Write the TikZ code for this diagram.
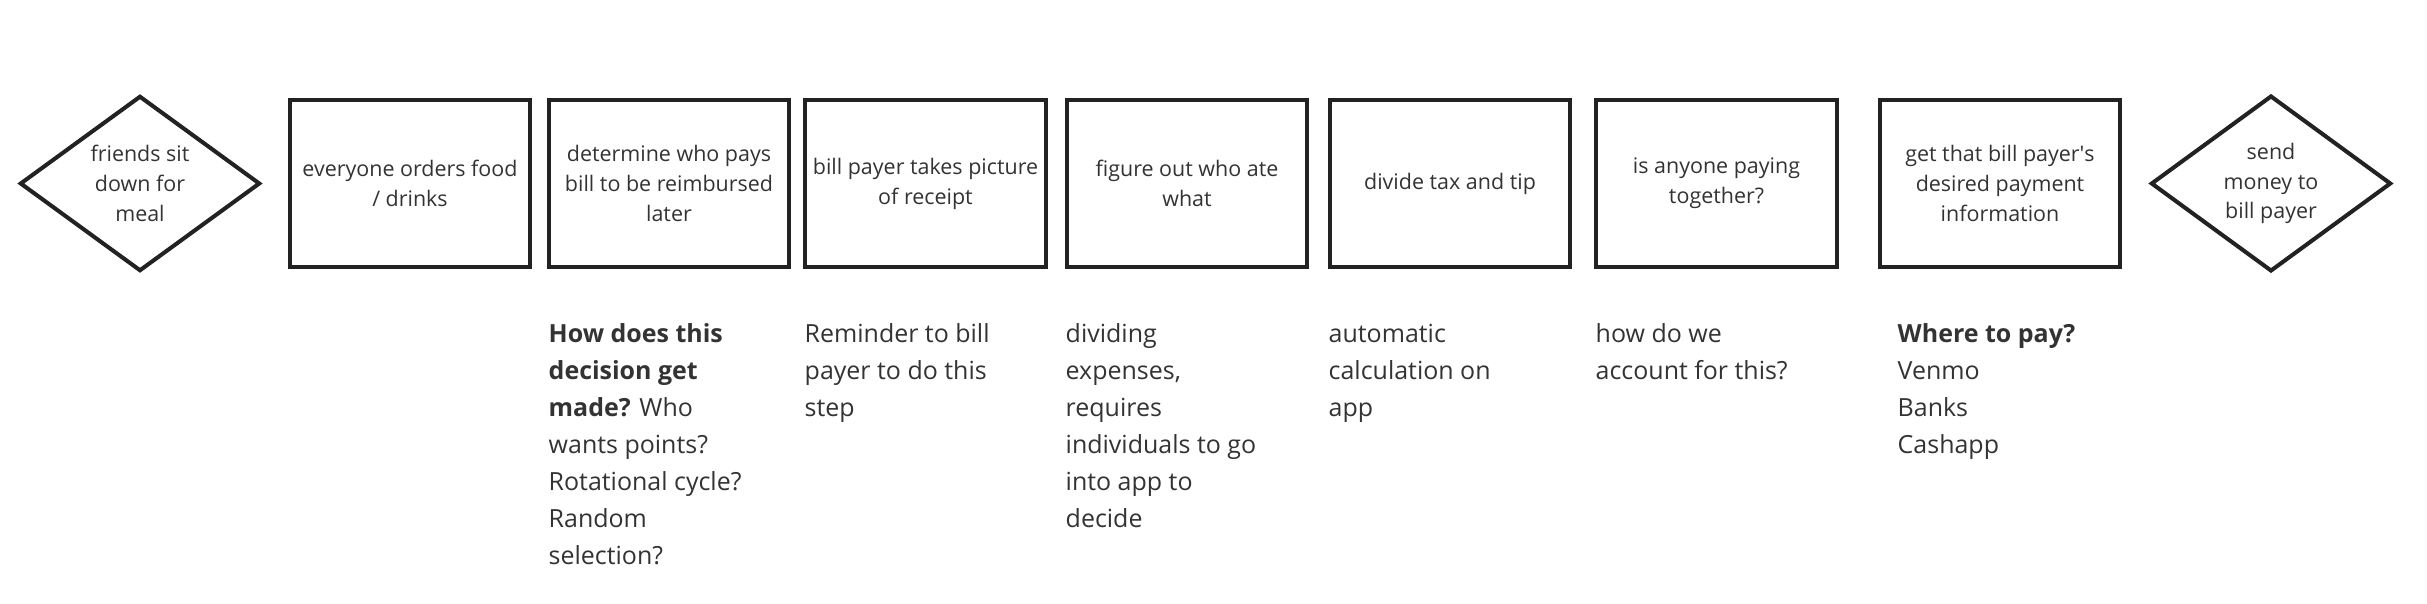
\documentclass[tikz,border=0pt]{standalone}
\usepackage{fontspec}
\setmainfont{Open Sans}
\usetikzlibrary{shapes.geometric}
\definecolor{ink}{HTML}{222222}
\definecolor{txt}{HTML}{333333}
\begin{document}
\begin{tikzpicture}[
		x=0.01cm, y=-0.01cm,
		every node/.style={inner sep=0, text=txt},
		stepbox/.style={draw=ink, line width=1.15pt, minimum width=2.40cm, minimum height=1.67cm, align=center, font=\fontsize{6.1}{8.5}\selectfont},
		endpoint/.style={diamond, draw=ink, line width=1.15pt, minimum width=2.40cm, minimum height=1.67cm, align=center, font=\fontsize{6.1}{8.5}\selectfont},
		note/.style={anchor=north west, align=left, font=\fontsize{7.1}{10.5}\selectfont},
	]
	\useasboundingbox (0,0) rectangle (2427,604);
	\node[endpoint] (sit) at (140,183.5) {friends sit\\down for\\meal};
	\node[stepbox] (order) at (410,183.5) {everyone orders food\\/ drinks};
	\node[stepbox] (payer) at (669,183.5) {determine who pays\\bill to be reimbursed\\later};
	\node[stepbox] (receipt) at (925.5,183.5) {bill payer takes picture\\of receipt};
	\node[stepbox] (whoate) at (1187,183.5) {figure out who ate\\what};
	\node[stepbox] (taxtip) at (1450,183.5) {divide tax and tip};
	\node[stepbox] (together) at (1716.5,183.5) {is anyone paying\\together?};
	\node[stepbox] (payinfo) at (2000,183.5) {get that bill payer\textquotesingle s\\desired payment\\information};
	\node[endpoint] (send) at (2271,183.5) {send\\money to\\bill payer};

	\node[note] (decide) at (548,316) {\strut\textbf{How does this}\\\textbf{decision get}\\\textbf{made?} Who\\wants points?\\Rotational cycle?\\Random\\selection?};
	\node[note] (remind) at (804,316) {\strut Reminder to bill\\payer to do this\\step};
	\node[note] (expenses) at (1065,316) {\strut dividing\\expenses,\\requires\\individuals to go\\into app to\\decide};
	\node[note] (auto) at (1328,316) {\strut automatic\\calculation on\\app};
	\node[note] (account) at (1595,316) {\strut how do we\\account for this?};
	\node[note] (where) at (1897,316) {\strut\textbf{Where to pay?}\\Venmo\\Banks\\Cashapp};
\end{tikzpicture}
\end{document}
